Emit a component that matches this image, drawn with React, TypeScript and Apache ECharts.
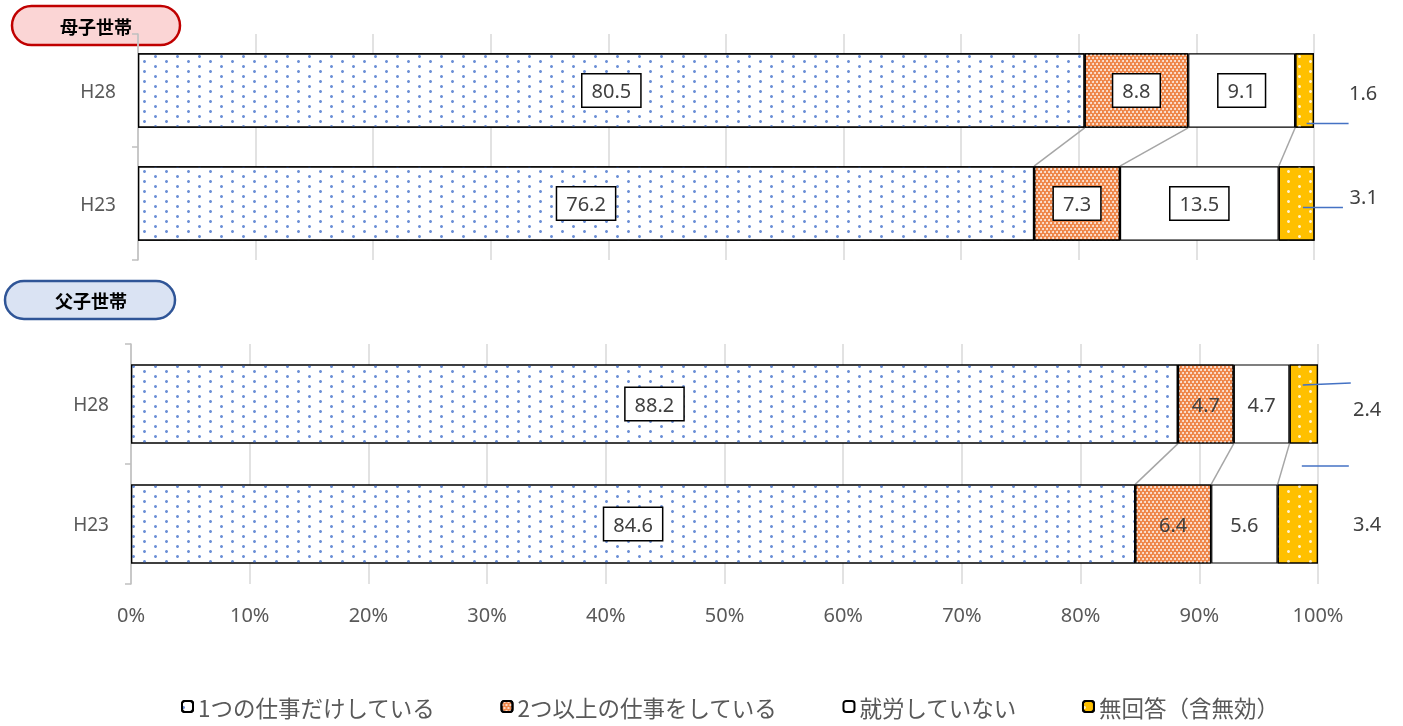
import React, { useEffect, useRef } from "react";
import * as echarts from "echarts";

const categories = ["H28", "H23"];
const seriesNames = ["1つの仕事だけしている", "2つ以上の仕事をしている", "就労していない", "無回答（含無効）"];
const groupTitles = ["母子世帯", "父子世帯"];

// 母子世帯
const motherOne = [80.5, 76.2];
const motherMulti = [8.8, 7.3];
const motherNone = [9.1, 13.5];
const motherNoAnswer = [1.6, 3.1];
// 父子世帯
const fatherOne = [88.2, 84.6];
const fatherMulti = [4.7, 6.4];
const fatherNone = [4.7, 5.6];
const fatherNoAnswer = [2.4, 3.4];

// which inside labels are drawn in a box
const motherBoxed = [[true, true], [true, true], [true, true]];
const fatherBoxed = [[true, true], [false, false], [false, false]];

// vertical offset (px) of the outside labels for 無回答
const motherOutsideDy = [2, -7];
const fatherOutsideDy = [4, -1];

// leader line styling: [dxStart, dyStart, dyEnd, length]
const motherLeader = [[2, 33, 33, 42], [6, 4, 4, 40]];
const fatherLeader = [[-1, -19, -21, 48], [4, -58, -58, 47]];

const FONT = "'Noto Sans', 'Liberation Sans', sans-serif";
const CJK = "'Noto Sans CJK JP', sans-serif";

const dotDecal = (color: string) => ({
  symbol: "circle",
  symbolSize: 1,
  color,
  dashArrayX: [[3, 19], [0, 11, 3, 8]],
  dashArrayY: [3, 2],
});

const itemStyles = [
  { color: "#ffffff", borderColor: "#000", borderWidth: 1.2, decal: dotDecal("#6B8FD6") },
  {
    color: "#EE8446",
    borderColor: "#000",
    borderWidth: 1.2,
    decal: { symbol: "circle", symbolSize: 1, color: "rgba(255,255,255,0.85)", dashArrayX: [[2, 2], [0, 2, 2, 0]], dashArrayY: [2, 1] },
  },
  { color: "#ffffff", borderColor: "#000", borderWidth: 1.2 },
  { color: "#FFC000", borderColor: "#000", borderWidth: 1.2, decal: dotDecal("#FFF2CC") },
];

const boxLabel = {
  show: true,
  position: "inside",
  color: "#404040",
  fontSize: 20,
  fontFamily: FONT,
  backgroundColor: "#fff",
  borderColor: "#000",
  borderWidth: 1.5,
  padding: [6, 9],
};
const plainLabel = {
  show: true,
  position: "inside",
  color: "#404040",
  fontSize: 20,
  fontFamily: FONT,
};

function cum(arrs: number[][], k: number, idx: number) {
  let s = 0;
  for (let i = 0; i < k; i++) s += arrs[i][idx];
  return s;
}

function buildGroup(
  gi: number,
  values: number[][],
  boxed: boolean[][],
  outsideDy: number[],
  leader: number[][]
) {
  const out: any[] = [];
  values.forEach((vals, si) => {
    out.push({
      name: seriesNames[si],
      type: "bar",
      stack: "g" + gi,
      xAxisIndex: gi,
      yAxisIndex: gi,
      barWidth: "66%",
      itemStyle: itemStyles[si],
      emphasis: { disabled: true },
      data: vals.map((v, ci) => {
        if (si === 3) {
          return {
            value: v,
            label: {
              show: true,
              position: "right",
              distance: 35,
              offset: [0, outsideDy[ci]],
              color: "#404040",
              fontSize: 20,
              fontFamily: FONT,
            },
          };
        }
        return { value: v, label: boxed[si][ci] ? boxLabel : plainLabel };
      }),
      z: 2,
    });
  });
  // series lines between H28 and H23
  const linkData = [1, 2, 3].map((k) => [cum(values, k, 0), cum(values, k, 1), 0]);
  out.push({
    type: "custom",
    xAxisIndex: gi,
    yAxisIndex: gi,
    encode: { x: [0, 1], y: 2 },
    silent: true,
    z: 1,
    renderItem: (params: any, api: any) => {
      const a = api.coord([api.value(0), 0]);
      const b = api.coord([api.value(1), 1]);
      const half = api.size([0, 1])[1] * 0.33;
      return {
        type: "line",
        shape: { x1: a[0], y1: a[1] + half, x2: b[0], y2: b[1] - half },
        style: { stroke: "#a6a6a6", lineWidth: 1.5 },
      };
    },
    data: linkData,
  });
  // leader lines for 無回答 labels
  const leaderData = [0, 1].map((ci) => [cum(values, 3, ci) + values[3][ci] / 2, ci]);
  out.push({
    type: "custom",
    xAxisIndex: gi,
    yAxisIndex: gi,
    encode: { x: 0, y: 1 },
    silent: true,
    z: 5,
    renderItem: (params: any, api: any) => {
      const p = api.coord([api.value(0), api.value(1)]);
      const l = leader[params.dataIndex];
      const x1 = p[0] + l[0];
      return {
        type: "line",
        shape: { x1, y1: p[1] + l[1], x2: x1 + l[3], y2: p[1] + l[2] },
        style: { stroke: "#4472C4", lineWidth: 1.5 },
      };
    },
    data: leaderData,
  });
  return out;
}

export default function App() {
  const ref = useRef<HTMLDivElement>(null);
  useEffect(() => {
    if (!ref.current) return;
    const chart = echarts.init(ref.current, undefined, { renderer: "svg" });
    const xAxisBase = {
      type: "value",
      min: 0,
      max: 100,
      interval: 10,
      axisLine: { show: false },
      axisTick: { show: false },
      splitLine: { show: true, lineStyle: { color: "#d9d9d9", width: 1.5 } },
    };
    const yAxisBase = {
      type: "category",
      data: categories,
      inverse: true,
      axisLine: { show: true, lineStyle: { color: "#bfbfbf", width: 1.5 } },
      axisTick: { show: true, length: 6, lineStyle: { color: "#bfbfbf", width: 1.5 } },
      axisLabel: { color: "#595959", fontSize: 19, fontFamily: FONT, margin: 22 },
    };
    const option: any = {
      animation: false,
      textStyle: { fontFamily: FONT },
      grid: [
        { left: 138, right: 89, top: 34, height: 226 },
        { left: 131, right: 85, top: 344, height: 240 },
      ],
      xAxis: [
        { ...xAxisBase, gridIndex: 0, axisLabel: { show: false } },
        {
          ...xAxisBase,
          gridIndex: 1,
          axisLabel: { show: true, formatter: "{value}%", color: "#595959", fontSize: 20, fontFamily: FONT, margin: 20 },
        },
      ],
      yAxis: [
        { ...yAxisBase, gridIndex: 0 },
        { ...yAxisBase, gridIndex: 1 },
      ],
      legend: {
        data: seriesNames,
        left: 176,
        top: 690,
        itemWidth: 11,
        itemHeight: 11,
        itemGap: 65,
        selectedMode: false,
        textStyle: { fontFamily: CJK, fontSize: 22.5, lineHeight: 23, color: "#595959" },
      },
      graphic: [
        {
          type: "rect",
          shape: { x: 12, y: 6, width: 168, height: 39, r: 20 },
          style: { fill: "#FBD5D5", stroke: "#C00000", lineWidth: 2.5 },
        },
        {
          type: "text",
          x: 96,
          y: 26,
          style: { text: groupTitles[0], fontFamily: CJK, fontWeight: "bold", fontSize: 18, fill: "#000", align: "center", verticalAlign: "middle" },
        },
        {
          type: "rect",
          shape: { x: 5, y: 281, width: 170, height: 38, r: 19 },
          style: { fill: "#DAE3F3", stroke: "#2F5597", lineWidth: 2.5 },
        },
        {
          type: "text",
          x: 91,
          y: 300,
          style: { text: groupTitles[1], fontFamily: CJK, fontWeight: "bold", fontSize: 18, fill: "#000", align: "center", verticalAlign: "middle" },
        },
      ],
      series: [
        ...buildGroup(0, [motherOne, motherMulti, motherNone, motherNoAnswer], motherBoxed, motherOutsideDy, motherLeader),
        ...buildGroup(1, [fatherOne, fatherMulti, fatherNone, fatherNoAnswer], fatherBoxed, fatherOutsideDy, fatherLeader),
      ],
    };
    chart.setOption(option);
    return () => chart.dispose();
  }, []);
  return <div ref={ref} style={{ position: "fixed", left: 0, top: 0, width: 1403, height: 726 }} />;
}
